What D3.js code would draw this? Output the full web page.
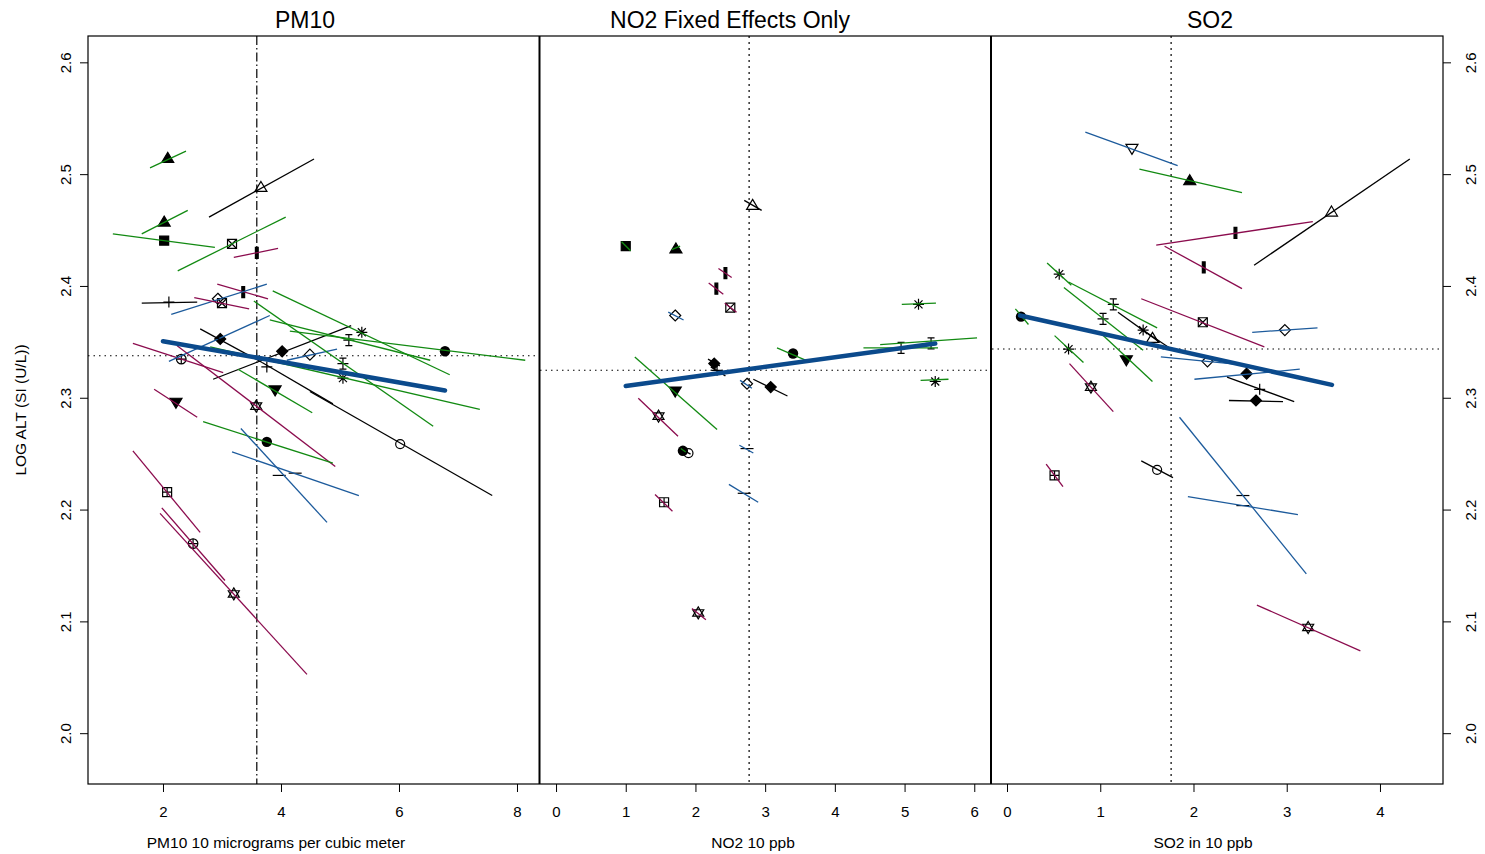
<!DOCTYPE html>
<html>
<head>
<meta charset="utf-8">
<title>LOG ALT by pollutant</title>
<script src="https://cdn.jsdelivr.net/npm/d3@7"></script>
<style>
  body { margin: 0; background: #fff; }
  text { font-family: "Liberation Sans", Arial, Helvetica, sans-serif; fill: #000; }
</style>
</head>
<body>
<script>
// study points: [x, y, segX0, segY0, segX1, segY1, symbol, group]
var pm10Points = [
  [2.08, 2.515, 1.78, 2.506, 2.39, 2.521, "triF", "g"],
  [3.66, 2.489, 2.78, 2.462, 4.56, 2.514, "tri", "k"],
  [2.02, 2.458, 1.64, 2.447, 2.42, 2.468, "triF", "g"],
  [2.02, 2.441, 1.15, 2.447, 2.88, 2.435, "sqF", "g"],
  [3.17, 2.438, 2.25, 2.414, 4.08, 2.462, "boxX", "g"],
  [3.59, 2.430, 3.20, 2.426, 3.95, 2.434, "bar", "m"],
  [3.36, 2.395, 2.92, 2.402, 3.78, 2.389, "bar", "m"],
  [2.10, 2.386, 1.64, 2.385, 2.58, 2.386, "plus", "k"],
  [2.93, 2.389, 2.14, 2.375, 3.76, 2.402, "dia", "b"],
  [3.00, 2.385, 2.53, 2.390, 3.46, 2.380, "boxX", "m"],
  [2.31, 2.335, 1.49, 2.349, 3.02, 2.323, "circPlus", "m"],
  [2.95, 2.354, 2.10, 2.333, 3.81, 2.374, "none", "b"],
  [2.97, 2.353, 2.63, 2.362, 3.68, 2.332, "diaF", "k"],
  [4.02, 2.342, 2.85, 2.317, 5.19, 2.365, "diaF", "k"],
  [4.49, 2.339, 4.10, 2.334, 4.95, 2.344, "dia", "b"],
  [3.76, 2.328, 3.68, 2.332, 4.88, 2.295, "plus", "k"],
  [6.02, 2.259, 4.49, 2.306, 7.58, 2.213, "circ", "k"],
  [5.37, 2.359, 3.86, 2.396, 6.86, 2.321, "ast", "g"],
  [5.15, 2.352, 3.81, 2.370, 6.53, 2.334, "ibeam", "g"],
  [6.78, 2.342, 4.15, 2.360, 8.14, 2.334, "circF", "g"],
  [5.05, 2.331, 3.54, 2.387, 6.58, 2.275, "ibeam", "g"],
  [5.05, 2.318, 2.80, 2.346, 7.37, 2.290, "ast", "g"],
  [3.90, 2.307, 3.27, 2.326, 4.53, 2.287, "triDF", "g"],
  [2.22, 2.296, 1.85, 2.308, 2.58, 2.283, "triDF", "m"],
  [3.58, 2.293, 2.24, 2.347, 4.92, 2.239, "star", "m"],
  [3.76, 2.261, 2.68, 2.279, 4.88, 2.242, "circF", "g"],
  [3.97, 2.231, 3.32, 2.273, 4.78, 2.189, "dash", "b"],
  [4.24, 2.233, 3.17, 2.252, 5.32, 2.213, "dash", "b"],
  [2.07, 2.216, 1.49, 2.253, 2.63, 2.180, "sqPlus", "m"],
  [2.51, 2.170, 1.98, 2.202, 3.05, 2.137, "circPlus", "m"],
  [3.20, 2.125, 1.95, 2.197, 4.44, 2.053, "star", "m"]
];

var no2Points = [
  [2.82, 2.473, 2.70, 2.477, 2.95, 2.468, "tri", "k"],
  [1.00, 2.436, 0.94, 2.440, 1.07, 2.432, "sqF", "g"],
  [1.72, 2.434, 1.66, 2.433, 1.78, 2.436, "triF", "g"],
  [2.43, 2.412, 2.33, 2.416, 2.52, 2.408, "bar", "m"],
  [2.30, 2.398, 2.19, 2.403, 2.40, 2.393, "bar", "m"],
  [2.50, 2.381, 2.42, 2.385, 2.59, 2.377, "boxX", "m"],
  [1.71, 2.374, 1.61, 2.377, 1.83, 2.370, "dia", "b"],
  [5.20, 2.384, 4.96, 2.384, 5.45, 2.385, "ast", "g"],
  [4.95, 2.345, 4.41, 2.345, 5.48, 2.345, "ibeam", "g"],
  [5.38, 2.349, 4.65, 2.348, 6.04, 2.354, "ibeam", "g"],
  [3.40, 2.340, 3.17, 2.345, 3.62, 2.333, "circF", "g"],
  [2.27, 2.331, 2.18, 2.335, 2.35, 2.329, "diaF", "k"],
  [2.31, 2.325, 2.22, 2.328, 2.43, 2.320, "plus", "k"],
  [2.74, 2.313, 2.64, 2.316, 2.81, 2.309, "dia", "b"],
  [3.08, 2.310, 2.83, 2.317, 3.32, 2.302, "diaF", "k"],
  [5.44, 2.315, 5.23, 2.316, 5.63, 2.317, "ast", "g"],
  [1.71, 2.306, 1.13, 2.337, 2.31, 2.272, "triDF", "g"],
  [1.47, 2.284, 1.18, 2.300, 1.75, 2.266, "star", "m"],
  [1.82, 2.253, 1.79, 2.255, 1.86, 2.252, "circF", "g"],
  [1.90, 2.251, 1.87, 2.252, 1.93, 2.250, "circ", "k"],
  [2.74, 2.255, 2.63, 2.258, 2.83, 2.251, "dash", "b"],
  [2.70, 2.215, 2.48, 2.223, 2.90, 2.207, "dash", "b"],
  [1.55, 2.207, 1.42, 2.214, 1.67, 2.199, "sqPlus", "m"],
  [2.04, 2.108, 1.95, 2.112, 2.15, 2.102, "star", "m"]
];

var so2Points = [
  [1.34, 2.523, 0.84, 2.538, 1.83, 2.508, "triD", "b"],
  [1.96, 2.495, 1.42, 2.505, 2.52, 2.484, "triF", "g"],
  [3.48, 2.467, 2.65, 2.419, 4.32, 2.514, "tri", "k"],
  [2.45, 2.448, 1.60, 2.437, 3.28, 2.458, "bar", "m"],
  [2.11, 2.417, 1.69, 2.436, 2.52, 2.398, "bar", "m"],
  [2.10, 2.368, 1.44, 2.389, 2.76, 2.346, "boxX", "m"],
  [2.98, 2.361, 2.63, 2.359, 3.33, 2.363, "dia", "b"],
  [0.56, 2.411, 0.43, 2.421, 0.69, 2.401, "ast", "g"],
  [1.14, 2.384, 0.66, 2.404, 1.61, 2.363, "ibeam", "g"],
  [1.03, 2.371, 0.61, 2.399, 1.46, 2.343, "ibeam", "g"],
  [0.15, 2.373, 0.09, 2.380, 0.23, 2.366, "circF", "g"],
  [1.46, 2.361, 1.19, 2.377, 1.64, 2.350, "ast", "k"],
  [1.56, 2.354, 1.42, 2.363, 1.76, 2.344, "tri", "k"],
  [0.66, 2.344, 0.51, 2.356, 0.82, 2.332, "ast", "g"],
  [1.28, 2.334, 1.02, 2.357, 1.56, 2.315, "triDF", "g"],
  [2.15, 2.333, 1.65, 2.337, 2.64, 2.329, "dia", "b"],
  [2.57, 2.322, 2.01, 2.317, 3.14, 2.326, "diaF", "b"],
  [2.71, 2.308, 2.36, 2.319, 3.08, 2.297, "plus", "k"],
  [2.67, 2.298, 2.38, 2.298, 2.96, 2.297, "diaF", "k"],
  [0.90, 2.310, 0.67, 2.331, 1.14, 2.288, "star", "m"],
  [1.61, 2.236, 1.44, 2.244, 1.78, 2.229, "circ", "k"],
  [0.51, 2.231, 0.42, 2.241, 0.60, 2.221, "sqPlus", "m"],
  [2.53, 2.213, 1.85, 2.283, 3.21, 2.143, "dash", "b"],
  [2.53, 2.204, 1.94, 2.212, 3.12, 2.196, "dash", "b"],
  [3.23, 2.095, 2.68, 2.115, 3.79, 2.074, "star", "m"]
];

// pooled fit lines [x0, y0, x1, y1]
var pm10Fit = [2.00, 2.351, 6.78, 2.307];
var no2Fit  = [1.00, 2.311, 5.44, 2.349];
var so2Fit  = [0.14, 2.374, 3.485, 2.312];

// mean exposure (vertical) and mean response (horizontal)
var pm10Ref = [3.59, 2.338];
var no2Ref  = [2.77, 2.325];
var so2Ref  = [1.76, 2.344];

var titles  = ["PM10", "NO2 Fixed Effects Only", "SO2"];
var xLabels = ["PM10 10 micrograms per cubic meter", "NO2 10 ppb", "SO2 in 10 ppb"];
var xTicks  = [[2, 4, 6, 8], [0, 1, 2, 3, 4, 5, 6], [0, 1, 2, 3, 4]];
var yTicks  = [2.0, 2.1, 2.2, 2.3, 2.4, 2.5, 2.6];

var W = 1485, H = 854;
var plotTop = 36, plotBottom = 784;

var panels = [
  {pts: pm10Points, fit: pm10Fit, ref: pm10Ref, dom: [0.729, 8.373], px: [88, 539], vdash: "9,3,1.5,3", titleX: 305, labX: 276},
  {pts: no2Points,  fit: no2Fit,  ref: no2Ref,  dom: [-0.23, 6.24],  px: [540, 991], vdash: "2,4", titleX: 730, labX: 753},
  {pts: so2Points,  fit: so2Fit,  ref: so2Ref,  dom: [-0.161, 4.676], px: [992, 1443], vdash: "2,4", titleX: 1210, labX: 1203}
];

var color = d3.scaleOrdinal()
    .domain(["g", "m", "b", "k"])
    .range(["#128a12", "#8b0c4e", "#1d5b9c", "#000000"]);

var yScale = d3.scaleLinear().domain([1.955, 2.624]).range([plotBottom, plotTop]);

var svg = d3.select("body").append("svg")
    .attr("width", W).attr("height", H);

// draw a plotting symbol at the origin of g
function drawSymbol(g, s) {
  var p = function(d, fill) {
    g.append("path").attr("d", d)
      .attr("fill", fill ? "#000" : "none")
      .attr("stroke", "#000").attr("stroke-width", 1.2);
  };
  if (s === "sqF") p("M-4.5,-4.5H4.5V4.5H-4.5Z", true);
  else if (s === "tri") p("M0,-5.5L6,4.5L-6,4.5Z");
  else if (s === "triF") p("M0,-5.5L6,4.5L-6,4.5Z", true);
  else if (s === "triD") p("M0,5.5L6,-4.5L-6,-4.5Z");
  else if (s === "triDF") p("M0,5.5L6,-4.5L-6,-4.5Z", true);
  else if (s === "circ") g.append("circle").attr("r", 4.5).attr("fill", "none").attr("stroke", "#000").attr("stroke-width", 1.2);
  else if (s === "circF") g.append("circle").attr("r", 5.2).attr("fill", "#000");
  else if (s === "dia") p("M0,-5.5L5.5,0L0,5.5L-5.5,0Z");
  else if (s === "diaF") p("M0,-5.5L5.5,0L0,5.5L-5.5,0Z", true);
  else if (s === "plus") p("M-5.5,0H5.5M0,-5.5V5.5");
  else if (s === "ast") p("M-5.5,0H5.5M0,-5.5V5.5M-4,-4L4,4M-4,4L4,-4");
  else if (s === "boxX") { p("M-4.5,-4.5H4.5V4.5H-4.5Z"); p("M-4.5,-4.5L4.5,4.5M-4.5,4.5L4.5,-4.5"); }
  else if (s === "star") p("M0,-6L5.5,3.2L-5.5,3.2ZM0,6L5.5,-3.2L-5.5,-3.2Z");
  else if (s === "sqPlus") p("M-4.5,-4.5H4.5V4.5H-4.5ZM-4.5,0H4.5M0,-4.5V4.5");
  else if (s === "circPlus") { g.append("circle").attr("r", 4.8).attr("fill", "none").attr("stroke", "#000").attr("stroke-width", 1.2); p("M-4.8,0H4.8M0,-4.8V4.8"); }
  else if (s === "bar") p("M-1.4,-5.5H1.4V5.5H-1.4Z", true);
  else if (s === "ibeam") p("M-3.5,-5.5H3.5M0,-5.5V5.5M-3.5,5.5H3.5M-5.5,0H5.5");
  else if (s === "dash") p("M-6.5,0H6.5");
}

panels.forEach(function(pn, i) {
  var x = d3.scaleLinear().domain(pn.dom).range(pn.px);
  var g = svg.append("g");

  // reference lines
  g.append("line")
    .attr("x1", x(pn.ref[0])).attr("x2", x(pn.ref[0]))
    .attr("y1", plotTop).attr("y2", plotBottom)
    .attr("stroke", "#000").attr("stroke-width", 1.2)
    .attr("stroke-dasharray", pn.vdash);
  g.append("line")
    .attr("x1", pn.px[0]).attr("x2", pn.px[1])
    .attr("y1", yScale(pn.ref[1])).attr("y2", yScale(pn.ref[1]))
    .attr("stroke", "#000").attr("stroke-width", 1.1)
    .attr("stroke-dasharray", "1.5,4");

  // symbols
  g.selectAll("g.pt").data(pn.pts).enter().append("g")
    .attr("class", "pt")
    .attr("transform", function(d) { return "translate(" + x(d[0]) + "," + yScale(d[1]) + ")"; })
    .each(function(d) { drawSymbol(d3.select(this), d[6]); });

  // within-study slopes
  g.selectAll("line.seg").data(pn.pts).enter().append("line")
    .attr("class", "seg")
    .attr("x1", function(d) { return x(d[2]); })
    .attr("y1", function(d) { return yScale(d[3]); })
    .attr("x2", function(d) { return x(d[4]); })
    .attr("y2", function(d) { return yScale(d[5]); })
    .attr("stroke", function(d) { return color(d[7]); })
    .attr("stroke-width", 1.3);

  // pooled fit
  g.append("line")
    .attr("x1", x(pn.fit[0])).attr("y1", yScale(pn.fit[1]))
    .attr("x2", x(pn.fit[2])).attr("y2", yScale(pn.fit[3]))
    .attr("stroke", "#0b4a8c").attr("stroke-width", 4.5)
    .attr("stroke-linecap", "round");

  // bottom axis
  var ax = svg.append("g")
    .attr("transform", "translate(0," + plotBottom + ")")
    .call(d3.axisBottom(x).tickValues(xTicks[i]).tickSize(8).tickPadding(14).tickFormat(d3.format("d")));
  ax.select(".domain").remove();
  ax.selectAll("text").style("font-size", "15px");

  svg.append("text")
    .attr("x", pn.labX).attr("y", 848)
    .attr("text-anchor", "middle").style("font-size", "15.5px")
    .text(xLabels[i]);

  svg.append("text")
    .attr("x", pn.titleX).attr("y", 28)
    .attr("text-anchor", "middle").style("font-size", "23px")
    .text(titles[i]);
});

// frame and panel dividers
svg.append("rect")
  .attr("x", 88).attr("y", plotTop).attr("width", 1443 - 88).attr("height", plotBottom - plotTop)
  .attr("fill", "none").attr("stroke", "#000").attr("stroke-width", 1.2);
[539.5, 991].forEach(function(xx) {
  svg.append("line").attr("x1", xx).attr("x2", xx).attr("y1", plotTop).attr("y2", plotBottom)
    .attr("stroke", "#000").attr("stroke-width", 2);
});

// left and right y axes
var fmt = d3.format(".1f");
[[88, -1, 71], [1443, 1, 1476]].forEach(function(side) {
  var gx = side[0], dir = side[1], base = side[2];
  yTicks.forEach(function(t) {
    svg.append("line")
      .attr("x1", gx).attr("x2", gx + dir * 8)
      .attr("y1", yScale(t)).attr("y2", yScale(t))
      .attr("stroke", "#000");
    svg.append("text")
      .attr("transform", "translate(" + base + "," + yScale(t) + ") rotate(-90)")
      .attr("text-anchor", "middle").style("font-size", "15px")
      .text(fmt(t));
  });
});

svg.append("text")
  .attr("transform", "translate(26,410) rotate(-90)")
  .attr("text-anchor", "middle").style("font-size", "15.5px")
  .text("LOG ALT (SI (U/L))");
</script>
</body>
</html>
